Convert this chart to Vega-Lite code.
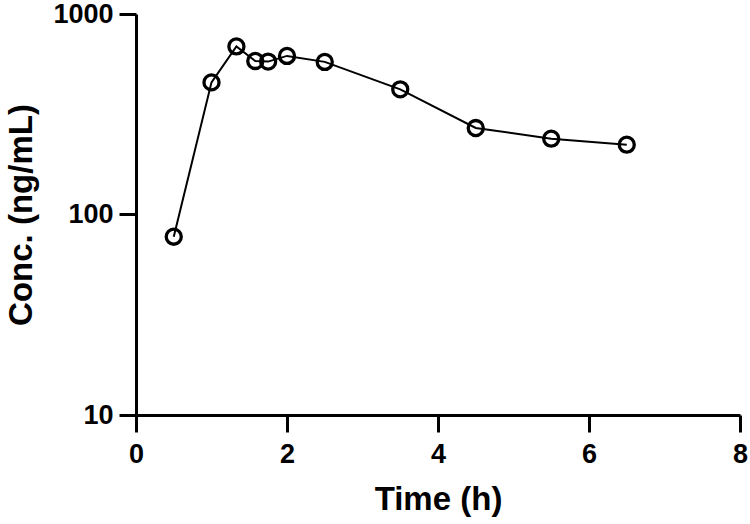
{
  "$schema": "https://vega.github.io/schema/vega-lite/v6.json",
  "autosize": "none",
  "width": 604,
  "height": 401,
  "padding": {"left": 136, "top": 14, "right": 10, "bottom": 109},
  "background": "white",
  "config": {
    "view": {"stroke": null},
    "font": "Liberation Sans",
    "axis": {
      "grid": false,
      "domainColor": "black",
      "domainWidth": 3,
      "tickColor": "black",
      "tickWidth": 3,
      "tickSize": 17,
      "labelColor": "black",
      "labelFont": "Liberation Sans",
      "labelFontWeight": "bold",
      "labelFontSize": 27,
      "titleColor": "black",
      "titleFont": "Liberation Sans",
      "titleFontWeight": "bold",
      "titleFontSize": 33
    }
  },
  "data": {
    "values": [
      {"time": 0.5, "conc": 77.5},
      {"time": 1.0, "conc": 456},
      {"time": 1.33, "conc": 689},
      {"time": 1.58, "conc": 583},
      {"time": 1.75, "conc": 579},
      {"time": 2.0, "conc": 618},
      {"time": 2.5, "conc": 577},
      {"time": 3.5, "conc": 421},
      {"time": 4.5, "conc": 270},
      {"time": 5.5, "conc": 239},
      {"time": 6.5, "conc": 223}
    ]
  },
  "encoding": {
    "x": {
      "field": "time",
      "type": "quantitative",
      "scale": {"domain": [0, 8], "nice": false, "zero": false},
      "axis": {"values": [0, 2, 4, 6, 8], "title": "Time (h)", "labelPadding": 9, "titlePadding": 16, "labelFlush": false}
    },
    "y": {
      "field": "conc",
      "type": "quantitative",
      "scale": {"type": "log", "domain": [10, 1000], "nice": false},
      "axis": {"values": [10, 100, 1000], "format": "d", "title": "Conc. (ng/mL)", "labelPadding": 6, "titlePadding": 14, "labelFlush": false}
    }
  },
  "layer": [
    {"mark": {"type": "line", "color": "black", "strokeWidth": 2}},
    {"mark": {"type": "point", "shape": "circle", "size": 227, "filled": false, "color": "black", "strokeWidth": 3.3, "opacity": 1}}
  ]
}
